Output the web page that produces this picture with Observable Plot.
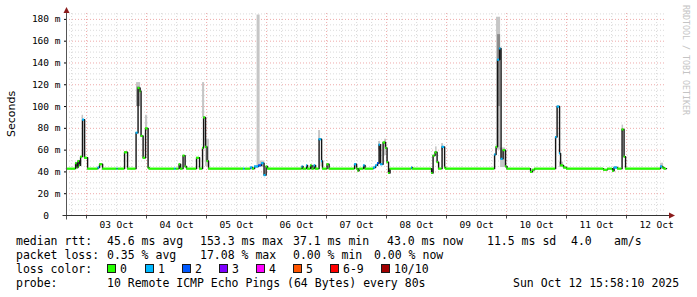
<!DOCTYPE html>
<html><head><meta charset="utf-8">
<script src="https://cdn.jsdelivr.net/npm/d3@7"></script>
<script src="https://cdn.jsdelivr.net/npm/@observablehq/plot@0.6"></script>
<style>
body{margin:0;background:#fff;}
#wrap{position:relative;width:697px;height:297px;overflow:hidden;background:#fff;}
#legend{position:absolute;left:0;top:234px;width:697px;font-family:"DejaVu Sans Mono",monospace;font-size:11.5px;line-height:14px;color:#000;}
.row{position:relative;height:14px;}
.row span{position:absolute;top:0;white-space:pre;}
.row .box{position:absolute;top:2px;width:9px;height:9px;box-sizing:border-box;border:1px solid #1a1a1a;}
</style></head><body>
<div id="wrap"><div id="chart"></div><div id="legend"></div></div>
<script>
// ---- data (day of October 2025, UTC decimal) ----
const rangeStartDay = 2.6653;   // Oct 2 15:58
const rangeEndDay = 12.6653;    // Oct 12 15:58

// median rtt (ms), step series, and loss count for each step
const medDay = [2.6653,2.817,2.842,2.858,2.883,2.900,2.933,2.967,3.017,3.192,3.217,3.267,3.508,3.525,3.633,3.683,
  3.825,3.858,3.892,3.908,3.942,3.983,4.025,4.042,4.467,4.492,4.542,4.567,4.608,4.642,4.667,4.833,4.883,
  4.933,4.950,4.983,5.008,5.033,5.617,5.642,5.733,5.767,5.800,5.867,5.917,5.958,5.992,6.017,
  6.592,6.608,6.667,6.683,6.733,6.758,6.792,6.817,6.875,6.917,6.933,7.008,7.042,
  7.467,7.500,7.525,7.542,7.617,7.642,7.783,7.817,7.850,7.875,7.900,7.942,7.983,8.008,8.033,8.058,
  8.417,8.433,8.750,8.775,8.808,8.842,8.867,8.925,8.967,8.983,
  9.800,9.825,9.850,9.883,9.908,9.942,9.983,10.008,10.400,10.433,10.467,
  10.817,10.842,10.883,10.900,10.950,11.000,11.617,11.683,11.767,11.792,11.850,11.925,11.958,11.983,
  12.567,12.600,12.625,12.6653];
const medMs = [43,48,44,50,46,54,88,53,43,44,47,43,43,43,58,43,
  76,117,114,73,53,80,44,43,43,43,47,43,55,45,43,53,43,
  62,90,63,50,43,43,43,44,43,45,46,48,37.1,45,43,
  45,43,46,43,46,43,46,43,70,50,43,47,43,
  47,43,41,43,46,43,44,46,48,65,47,67,62,49,39,43,
  44,43,39,55,58,49,43,63,44,43,
  56,63,143,153.3,52,60,45,43,40,42,43,
  72,100,57,46,44,43,42,43,41,44,43,79,54,43,
  45,44,43,43];
const medLoss = [0,0,0,0,0,0,1,0,0,1,0,0,1,0,0,0,
  1,0,0,0,0,0,0,0,1,0,0,0,0,0,0,0,0,
  0,0,0,0,0,1,0,1,0,1,2,1,1,0,0,
  1,0,1,0,0,0,1,0,1,1,0,0,0,
  1,0,0,0,1,0,1,1,2,1,1,0,0,0,0,0,
  1,0,0,0,0,0,0,1,0,0,
  1,0,1,1,1,0,0,0,0,0,0,
  1,1,1,0,0,0,0,0,0,1,0,0,0,0,
  1,0,0,0];

// smoke (spread of the pings): outer and dense core
const smokeFrom = [2.925,3.833,3.983,4.933,4.983,5.842,5.892,6.867,6.908,7.867,7.967,8.817,8.917,9.833,9.900,10.883,11.925,12.567];
const smokeTo   = [2.950,3.900,4.017,4.967,5.050,5.892,5.967,6.900,6.950,7.900,8.000,8.842,8.950,9.900,9.983,10.950,11.950,12.617];
const smokeLow  = [55,100,78,90,45,45,44,68,45,60,55,55,60,60,44,44,76,44];
const smokeHigh = [92,122,92,122,70,184,50,78,50,68,70,63,66,182,62,49,83,48];
const coreFrom = [3.842,9.850];
const coreTo   = [3.892,9.900];
const coreLow  = [100,100];
const coreHigh = [118,166];

// axes
const yTicks = [0,20,40,60,80,100,120,140,160,180];
const dayLabels = ["03 Oct","04 Oct","05 Oct","06 Oct","07 Oct","08 Oct","09 Oct","10 Oct","11 Oct","12 Oct"];
const dayNumbers = [3,4,5,6,7,8,9,10,11,12];

// legend
const lossLabels = ["0","1","2","3","4","5","6-9","10/10"];
const lossColors = ["#26ff00","#00b8ff","#0059ff","#7e00ff","#ff00ff","#ff5500","#ff0000","#a10000"];
const rttStats = ["45.6 ms avg","153.3 ms max","37.1 ms min","43.0 ms now","11.5 ms sd","4.0","am/s"];
const lossStats = ["0.35 % avg","17.08 % max","0.00 % min","0.00 % now"];
const probeText = "10 Remote ICMP Echo Pings (64 Bytes) every 80s";
const stampText = "Sun Oct 12 15:58:10 2025";

// ---- build ----
const toDate = d => new Date(Date.UTC(2025, 9, 1) + (d - 1) * 864e5);
const med = medDay.map((d, i) => ({t: toDate(d), v: medMs[i], loss: medLoss[i]}));
const segs = med.slice(0, -1).map((p, i) => ({t: p.t, t2: med[i + 1].t, v: p.v, loss: p.loss}));
const smoke = smokeFrom.map((d, i) => ({a: toDate(d), b: toDate(smokeTo[i]), lo: smokeLow[i], hi: smokeHigh[i]}));
const core = coreFrom.map((d, i) => ({a: toDate(d), b: toDate(coreTo[i]), lo: coreLow[i], hi: coreHigh[i]}));
const midnights = dayNumbers.map(d => toDate(d));
const noons = dayNumbers.map(d => toDate(d + 0.5));
const minorX = [];
for (let d = 2.75; d < rangeEndDay; d += 0.25) if (Math.abs(d - Math.round(d)) > 1e-6) minorX.push(toDate(d));
const minorY = d3.range(5, 190, 5).filter(v => v % 20 !== 0);
const majorY = yTicks.filter(v => v > 0);

const mono = "DejaVu Sans Mono, monospace";
const chart = Plot.plot({
  width: 697, height: 232,
  marginLeft: 66, marginRight: 31, marginTop: 8, marginBottom: 17,
  style: {fontFamily: mono, fontSize: "9.5px", background: "white", color: "#000", overflow: "visible"},
  x: {type: "utc", domain: [toDate(rangeStartDay), toDate(rangeEndDay)], axis: null},
  y: {domain: [0, 190], axis: null},
  marks: [
    Plot.ruleY(minorY, {stroke: "#dadada", strokeDasharray: "1,2"}),
    Plot.ruleX(minorX, {y1: 0, y2: 186, stroke: "#dadada", strokeDasharray: "1,2"}),
    Plot.ruleY(majorY, {stroke: "#eeaaaa", strokeDasharray: "1,2"}),
    Plot.ruleX(midnights, {y1: 0, y2: 186, stroke: "#eeaaaa", strokeDasharray: "1,2"}),
    Plot.rectY(smoke, {x1: "a", x2: "b", y1: "lo", y2: "hi", fill: "#c6c6c6"}),
    Plot.rectY(core, {x1: "a", x2: "b", y1: "lo", y2: "hi", fill: "#8a8a8a"}),
    Plot.line(med, {x: "t", y: "v", curve: "step-after", stroke: "#151515", strokeWidth: 1.4}),
    Plot.ruleY(segs, {x1: "t", x2: "t2", y: "v", stroke: d => lossColors[d.loss], strokeWidth: 2.2}),
    Plot.axisY(yTicks, {anchor: "left", tickSize: 2, tickPadding: 4, label: null,
      tickFormat: d => d === 0 ? "0\u00a0\u00a0" : d + " m", fontFamily: mono}),
    Plot.axisX(noons, {anchor: "bottom", tickSize: 0, tickPadding: 6, label: null,
      tickFormat: (d, i) => dayLabels[i], fontFamily: mono})
  ]
});
document.getElementById("chart").appendChild(chart);

// axis lines, arrows, midnight ticks, labels
const svg = d3.select(chart);
const xs = chart.scale("x"), ys = chart.scale("y");
const x0 = Math.round(xs.apply(toDate(rangeStartDay))) + 0.5;
const x1 = Math.round(xs.apply(toDate(rangeEndDay)));
const yb = Math.round(ys.apply(0)) + 0.5;
const g = svg.append("g");
g.selectAll("line.mt").data(midnights).join("line")
  .attr("x1", d => Math.round(xs.apply(d)) + 0.5).attr("x2", d => Math.round(xs.apply(d)) + 0.5)
  .attr("y1", yb).attr("y2", yb + 3).attr("stroke", "#444");
g.append("line").attr("x1", x0).attr("x2", x0).attr("y1", yb + 4).attr("y2", 12).attr("stroke", "#555");
g.append("line").attr("x1", x0 - 4).attr("x2", x1 + 4).attr("y1", yb).attr("y2", yb).attr("stroke", "#333");
g.append("path").attr("d", `M${x0 - 3},13 L${x0 + 3},13 L${x0},7 Z`).attr("fill", "#8b1c1c");
g.append("path").attr("d", `M${x1 + 3},${yb - 3} L${x1 + 3},${yb + 3} L${x1 + 9},${yb} Z`).attr("fill", "#8b1c1c");
g.append("text").attr("transform", `translate(15,${(ys.apply(0) + ys.apply(180)) / 2 - 3}) rotate(-90)`)
  .attr("text-anchor", "middle").attr("font-family", "DejaVu Sans, sans-serif").attr("font-size", 11)
  .attr("fill", "#000").text("Seconds");
g.append("text").attr("transform", "translate(683,5) rotate(90)")
  .attr("text-anchor", "start").attr("font-family", mono).attr("font-size", 8.3)
  .attr("fill", "#c4c4c4").text("RRDTOOL / TOBI OETIKER");

// legend
const legend = document.getElementById("legend");
function row(items) {
  const r = document.createElement("div"); r.className = "row";
  for (const [txt, left, cls, color] of items) {
    const s = document.createElement("span");
    if (cls) { s.className = cls; s.style.background = color; }
    else s.textContent = txt;
    s.style.left = left + "px";
    r.appendChild(s);
  }
  legend.appendChild(r);
}
const rttX = [107, 200, 293, 387, 487, 571, 614];
row([["median rtt:", 16], ...rttStats.map((t, i) => [t, rttX[i]])]);
const lossX = [107, 200, 293, 374];
row([["packet loss:", 16], ...lossStats.map((t, i) => [t, lossX[i]])]);
const boxX = [107, 145, 182, 219, 256, 293, 330, 381];
const items = [["loss color:", 16]];
lossLabels.forEach((l, i) => { items.push(["", boxX[i], "box", lossColors[i]]); items.push([l, boxX[i] + 13]); });
row(items);
row([["probe:", 16], [probeText, 107], [stampText, 513]]);
</script></body></html>
